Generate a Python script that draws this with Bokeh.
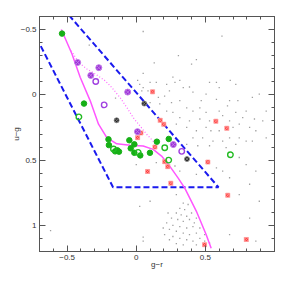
from bokeh.plotting import figure
from bokeh.models import Range1d, FixedTicker, LinearAxis
from bokeh.embed import file_html
from bokeh.resources import INLINE

# ---- data (g-r, u-g) ----
gray_x = [0.62, 0.305, 0.13, 0.40, 0.435, 0.05, 0.265, 0.10, 0.145, 0.22, 0.28, 0.315, 0.34, 0.24, 0.385,
          0.41, 0.53, 0.58, 0.60, 0.68, 0.72, 0.505, 0.47, 0.58, 0.675, 0.735, 0.84, 0.89, 0.16, 0.205,
          0.255, 0.315, 0.365, 0.41, 0.46, 0.505, 0.60, 0.66, 0.72, 0.795, 0.855, 0.77, 0.675, 0.625, 0.53,
          0.46, 0.385, 0.315, 0.265, 0.22, 0.17, 0.10, 0.05, 0.085, 0.29, 0.365, 0.435, 0.505, 0.54, 0.60,
          0.70, 0.745, 0.82, 0.865, 0.745, 0.795, 0.675, 0.625, 0.555, 0.48, 0.41, 0.365, 0.445, 0.53, 0.65,
          0.72, 0.84, 0.94, 0.915, 0.94,
          0.0, 0.145, 0.28, 0.315, 0.435, 0.58, 0.625, 0.745, 0.795, 0.865, 0.675, 0.82, 0.745, 0.89, 0.82,
          0.675, 0.865, 0.29, 0.10, 0.025, 0.195, 0.05,
          0.34, 0.315, 0.35, 0.29, 0.325, 0.365, 0.255, 0.30, 0.34, 0.385, 0.265, 0.315, 0.365, 0.41, 0.24,
          0.29, 0.34, 0.385, 0.435, 0.265, 0.315, 0.365, 0.41, 0.46, 0.29, 0.34, 0.435, 0.23, 0.22, 0.375,
          0.40, 0.435, 0.42, 0.46, 0.495, 0.495, 0.53, 0.24, 0.205,
          0.05, 0.01, 0.025, 0.04, 0.055, -0.15, -0.34, -0.62, 0.05]
gray_y = [-0.45, -0.30, -0.245, -0.235, -0.27, -0.165, -0.135, -0.095, -0.095, -0.08, -0.095, -0.11, -0.055, -0.03, -0.06,
          -0.02, -0.095, -0.095, -0.055, -0.11, -0.08, -0.005, 0.045, 0.035, 0.045, 0.045, 0.02, -0.005, 0.02, 0.01,
          0.06, 0.045, 0.10, 0.125, 0.10, 0.135, 0.125, 0.085, 0.135, 0.125, 0.185, 0.175, 0.20, 0.16, 0.20,
          0.185, 0.20, 0.175, 0.135, 0.125, 0.07, 0.06, -0.055, -0.03, 0.225, 0.25, 0.275, 0.25, 0.275, 0.275,
          0.25, 0.225, 0.25, 0.275, 0.33, 0.355, 0.33, 0.355, 0.355, 0.33, 0.33, 0.38, 0.39, 0.39, 0.405,
          0.38, 0.355, 0.33, 0.20, 0.125,
          0.535, 0.52, 0.545, 0.585, 0.61, 0.56, 0.585, 0.48, 0.535, 0.585, 0.635, 0.685, 0.765, 0.815, 0.945,
          1.07, 1.12, 0.765, 0.815, 0.855, 1.02, 1.12,
          0.83, 0.87, 0.88, 0.905, 0.92, 0.93, 0.945, 0.955, 0.97, 0.955, 1.0, 1.01, 1.02, 1.01, 1.03,
          1.045, 1.06, 1.07, 1.06, 1.085, 1.10, 1.11, 1.12, 1.10, 1.14, 1.15, 1.15, 0.905, 0.98, 0.84,
          0.905, 0.945, 0.98, 1.02, 1.07, 1.12, 1.135, 1.11, 1.07,
          -0.485, -0.11, -0.08, -0.03, 0.055, 0.025, -0.38, 1.04, 1.09]

green_fill_x = [-0.537, -0.378, -0.201, -0.198, -0.153, -0.137, -0.125, -0.05, -0.014, -0.040, -0.014, 0.029, 0.099, 0.149, 0.235]
green_fill_y = [-0.469, 0.067, 0.341, 0.385, 0.433, 0.425, 0.435, 0.348, 0.379, 0.41, 0.444, 0.464, 0.444, 0.359, 0.338]
green_open_x = [-0.415, -0.165, 0.014, 0.206, 0.235, 0.681]
green_open_y = [0.169, 0.415, 0.441, 0.405, 0.50, 0.459]

purple_fill_x = [-0.424, -0.271, -0.329, -0.062, 0.009, 0.268]
purple_fill_y = [-0.248, -0.208, -0.149, -0.021, 0.282, 0.381]
purple_open_x = [-0.293, -0.232, 0.329]
purple_open_y = [-0.102, 0.077, 0.433]

black_x = [-0.142, 0.058, 0.367]
black_y = [0.195, 0.067, 0.492]

red_x = [0.034, 0.010, 0.118, 0.173, 0.199, 0.576, 0.655, 0.135, 0.206, 0.228, 0.082, 0.518, 0.25, 0.662, 0.494, 0.796]
red_y = [0.292, 0.328, -0.023, 0.195, 0.225, 0.202, 0.256, 0.40, 0.512, 0.55, 0.587, 0.515, 0.677, 0.769, 1.148, 1.108]

# selection region (dashed polygon)
box_x = [-0.75, -0.168, 0.595, -0.55]
box_y = [-0.496, 0.708, 0.708, -0.687]

# model tracks
track_x = [-0.542, -0.465, -0.405, -0.333, -0.273, -0.213, -0.141, -0.045, 0.05, 0.122, 0.183, 0.242, 0.302, 0.35, 0.435, 0.506, 0.542]
track_y = [-0.50, -0.313, -0.133, 0.046, 0.225, 0.328, 0.375, 0.387, 0.392, 0.418, 0.469, 0.546, 0.636, 0.713, 0.892, 1.072, 1.175]
dot_x = [-0.47, -0.417, -0.357, -0.297, -0.225, -0.177, -0.117, -0.065, -0.022, 0.027, 0.075, 0.122, 0.149]
dot_y = [-0.338, -0.248, -0.198, -0.160, -0.108, -0.056, 0.021, 0.102, 0.175, 0.238, 0.302, 0.354, 0.40]

x_ticks = [-0.5, 0.0, 0.5]
x_labels = ["−0.5", "0", "0.5"]
y_ticks = [-0.5, 0.0, 0.5, 1.0]
y_labels = ["−0.5", "0", "0.5", "1"]

FONT = "Liberation Sans"

p = figure(width=291, height=274,
           x_range=Range1d(-0.7, 1.0), y_range=Range1d(1.2, -0.6),
           output_backend="svg", toolbar_location=None,
           min_border_left=39, min_border_right=17, min_border_top=16, min_border_bottom=23,
           x_axis_label="g−r", y_axis_label="u−g")
p.grid.visible = False
p.outline_line_color = "#555555"
p.background_fill_color = "white"
p.border_fill_color = "white"

x_minor = [round(-0.7 + 0.1 * i, 2) for i in range(18)]
y_minor = [round(-0.6 + 0.1 * i, 2) for i in range(19)]


def style(ax, ticks, minor, labels, show):
    ax.ticker = FixedTicker(ticks=ticks, minor_ticks=minor)
    ax.axis_line_color = "#555555"
    ax.major_tick_line_color = "#555555"
    ax.minor_tick_line_color = "#555555"
    ax.major_tick_in = 6
    ax.major_tick_out = 0
    ax.minor_tick_in = 3
    ax.minor_tick_out = 0
    ax.major_label_overrides = {t: l for t, l in zip(ticks, labels)}
    ax.major_label_text_font = FONT
    ax.major_label_text_font_size = "8px"
    if show:
        ax.major_label_text_color = "#333333"
        ax.major_label_standoff = 3
        ax.axis_label_text_font = FONT
        ax.axis_label_text_font_size = "8px"
        ax.axis_label_text_font_style = "normal"
        ax.axis_label_text_color = "#333333"
        ax.axis_label_standoff = -3
    else:
        ax.major_label_text_color = None
        ax.major_label_standoff = 0


style(p.xaxis[0], x_ticks, x_minor, x_labels, True)
style(p.yaxis[0], y_ticks, y_minor, y_labels, True)
p.yaxis[0].major_label_orientation = "horizontal"

top = LinearAxis()
right = LinearAxis()
style(top, x_ticks, x_minor, x_labels, False)
style(right, y_ticks, y_minor, y_labels, False)
p.add_layout(top, "above")
p.add_layout(right, "right")

# background stars
p.scatter(gray_x, gray_y, marker="square", size=1.3, fill_color="#a0a0a0", line_color=None)

# selection box
p.line(box_x, box_y, line_color="#1a1aee", line_width=2, line_dash="6 3")

# tracks
p.line(track_x, track_y, line_color="#ff55ff", line_width=1.5)
p.line(dot_x, dot_y, line_color="#ff66ff", line_width=1.2, line_dash="1 2")

# objects
p.scatter(red_x, red_y, marker="square_x", size=4, fill_color="#ff3333", line_color="#ff9a9a", line_width=0.8)
p.scatter(green_fill_x, green_fill_y, marker="circle", size=5.5, fill_color="#16b016", line_color="#16b016")
p.scatter(green_open_x, green_open_y, marker="circle", size=5.5, fill_color=None, line_color="#22bb22", line_width=1.4)
p.scatter(purple_fill_x, purple_fill_y, marker="circle_x", size=6, fill_color="#9b2fd6", line_color="#c07ae8", line_width=1)
p.scatter(purple_open_x, purple_open_y, marker="circle", size=5.5, fill_color=None, line_color="#a040e0", line_width=1.4)
p.scatter(black_x, black_y, marker="circle_x", size=5, fill_color="#222222", line_color="#888888", line_width=0.8)

open("out.html", "w").write(file_html(p, INLINE))
